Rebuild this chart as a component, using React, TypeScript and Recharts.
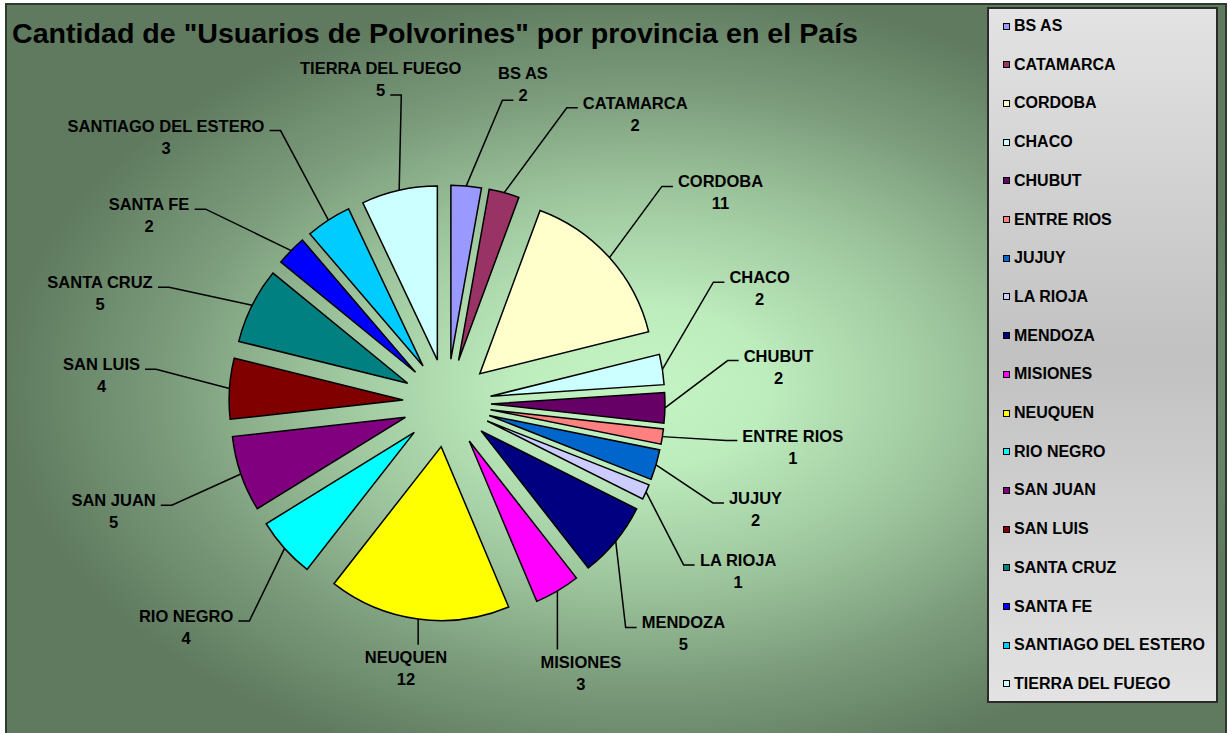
import React from "react";
import { PieChart, Pie, Cell, Sector, Legend } from "recharts";

const provinces = [
  "BS AS", "CATAMARCA", "CORDOBA", "CHACO", "CHUBUT", "ENTRE RIOS", "JUJUY", "LA RIOJA", "MENDOZA",
  "MISIONES", "NEUQUEN", "RIO NEGRO", "SAN JUAN", "SAN LUIS", "SANTA CRUZ", "SANTA FE",
  "SANTIAGO DEL ESTERO", "TIERRA DEL FUEGO",
];
const users = [2, 2, 11, 2, 2, 1, 2, 1, 5, 3, 12, 4, 5, 4, 5, 2, 3, 5];
const sliceColors = [
  "#9999FF", "#993366", "#FFFFCC", "#CCFFFF", "#660066", "#FF8080", "#0066CC", "#CCCCFF", "#000080",
  "#FF00FF", "#FFFF00", "#00FFFF", "#800080", "#800000", "#008080", "#0000FF", "#00CCFF", "#CCFFFF",
];
const title = 'Cantidad de "Usuarios de Polvorines" por provincia en el País';

const rows = provinces.map((name, i) => ({ name, value: users[i] }));

const FONT = "'Liberation Sans', Arial, sans-serif";
const LABEL_SIZE = 16.5;
const CX = 442;
const CY = 398;
const OUTER = 174;
const EXPLODE = 44;
const LABEL_GAP = 302; // distance from pie centre to the nearest corner/edge of a label
const HALF_H = 17;
const RAD = Math.PI / 180;

let measureCtx: CanvasRenderingContext2D | null = null;
function textWidth(s: string) {
  if (!measureCtx) measureCtx = document.createElement("canvas").getContext("2d");
  if (!measureCtx) return s.length * 11;
  measureCtx.font = `bold ${LABEL_SIZE}px ${FONT}`;
  return measureCtx.measureText(s).width;
}

// spread the data labels around the pie so they don't collide (angles clockwise from 12 o'clock)
function layoutLabels() {
  const total = users.reduce((a, b) => a + b, 0);
  let acc = 0;
  const mids = users.map((v) => {
    const m = ((acc + v / 2) / total) * 360;
    acc += v;
    return m;
  });
  const widths = provinces.map((p) => textWidth(p));
  const place = (i: number, a: number) => {
    const s = Math.sin(a * RAD);
    const c = Math.cos(a * RAD);
    const target = LABEL_GAP - (c < 0 ? 52 * Math.pow(c, 6) : 0);
    const hw = widths[i] / 2;
    const near = (d: number) => {
      const nx = Math.max(0, Math.abs(d * s) - hw);
      const ny = Math.max(0, Math.abs(d * c) - HALF_H);
      return Math.hypot(nx, ny);
    };
    let lo = 0;
    let hi = 800;
    for (let k = 0; k < 40; k++) {
      const mid = (lo + hi) / 2;
      if (near(mid) < target) lo = mid;
      else hi = mid;
    }
    return { x: CX + lo * s, y: CY - lo * c };
  };
  const ang = mids.slice();
  const n = ang.length;
  const hits = (i: number, j: number) => {
    const p = place(i, ang[i]);
    const q = place(j, ang[j]);
    const lower = p.y > CY && q.y > CY;
    const padX = lower ? 20 : 34;
    const padY = lower ? 28 : 44;
    return Math.abs(p.x - q.x) < (widths[i] + widths[j]) / 2 + padX && Math.abs(p.y - q.y) < 2 * HALF_H + padY;
  };
  for (let it = 0; it < 3000; it++) {
    let moved = false;
    for (let i = 0; i < n; i++) {
      const j = (i + 1) % n;
      if (hits(i, j)) {
        ang[i] -= 0.2;
        ang[j] += 0.2;
        moved = true;
      }
    }
    if (!moved) break;
  }
  return ang.map((a, i) => ({ angle: a, w: widths[i], ...place(i, a) }));
}

const ExplodedSlice = (props: any) => {
  const { cx, cy, midAngle } = props;
  const dx = EXPLODE * Math.cos(-midAngle * RAD);
  const dy = EXPLODE * Math.sin(-midAngle * RAD);
  return <Sector {...props} cx={cx + dx} cy={cy + dy} stroke="#000" strokeWidth={1.5} />;
};

const LegendBox = (props: any) => {
  const items = (props.payload ?? [])
    .slice()
    .sort((a: any, b: any) => provinces.indexOf(a.value) - provinces.indexOf(b.value));
  return (
    <div
      style={{
        position: "relative",
        boxSizing: "border-box",
        width: 231,
        height: 696,
        border: "2px solid #2b2b2b",
        background: "linear-gradient(to bottom, #e3e3e3 0%, #c1c1c1 50%, #e3e3e3 100%)",
        fontFamily: FONT,
        fontWeight: "bold",
        fontSize: 16,
        color: "#000",
      }}
    >
      {items.map((it: any, i: number) => (
        <div
          key={i}
          style={{ position: "absolute", left: 14, top: 7 + i * 38.7, height: 20, display: "flex", alignItems: "center", whiteSpace: "nowrap" }}
        >
          <span style={{ display: "inline-block", width: 5, height: 5, border: "1.5px solid #000", background: it.color, marginRight: 4 }} />
          <span>{it.value}</span>
        </div>
      ))}
    </div>
  );
};

export default function App() {
  const labels = React.useMemo(() => layoutLabels(), []);

  const renderLabel = (props: any) => {
    const { cx, cy, midAngle, index } = props;
    const L = labels[index];
    const sx = cx + (OUTER + EXPLODE) * Math.cos(-midAngle * RAD);
    const sy = cy + (OUTER + EXPLODE) * Math.sin(-midAngle * RAD);
    const nameY = L.y - 5;
    const valueY = L.y + 17;
    const s = Math.sin(L.angle * RAD);
    const c = Math.cos(L.angle * RAD);
    let d: string;
    if (Math.abs(s) >= (c < 0 ? 0.5 : 0.35)) {
      const dir = s > 0 ? 1 : -1;
      const ex = L.x - dir * (L.w / 2 + 5);
      const ey = nameY - 1;
      d = `M${sx},${sy}L${ex - dir * 11},${ey}L${ex},${ey}`;
    } else if (c > 0) {
      const vw = textWidth(String(users[index]));
      const side = sx < L.x ? -1 : 1;
      const ex = L.x + side * (vw / 2 + 5);
      const ey = valueY - 1;
      d = `M${sx},${sy}L${ex + side * 11},${ey}L${ex},${ey}`;
    } else {
      const ex = Math.max(L.x - L.w / 2, Math.min(L.x + L.w / 2, sx));
      d = `M${sx},${sy}L${ex},${nameY - 18}`;
    }
    return (
      <g key={`lbl-${index}`}>
        <path d={d} stroke="#000" strokeWidth={1.5} fill="none" />
        <text x={L.x} y={nameY} textAnchor="middle" fontFamily={FONT} fontWeight="bold" fontSize={LABEL_SIZE} fill="#000">
          {provinces[index]}
        </text>
        <text x={L.x} y={valueY} textAnchor="middle" fontFamily={FONT} fontWeight="bold" fontSize={LABEL_SIZE} fill="#000">
          {users[index]}
        </text>
      </g>
    );
  };

  return (
    <div style={{ position: "absolute", left: 0, top: 0, width: 1230, height: 733, overflow: "hidden", background: "#fff" }}>
      <div
        style={{
          position: "absolute",
          left: 5,
          top: 3,
          width: 1222,
          height: 740,
          boxSizing: "border-box",
          border: "2px solid #2f3a2f",
          background:
            "radial-gradient(ellipse 640px 400px at 635px 382px, #c4f4c4 0%, #bdecbd 20%, #9cc49c 50%, #7a9a7a 75%, #5f7a5f 100%)",
        }}
      />
      <svg width={1230} height={60} style={{ position: "absolute", left: 0, top: 0 }}>
        <text x={12} y={43} fontFamily={FONT} fontWeight="bold" fontSize={28.5} textLength={846} lengthAdjust="spacingAndGlyphs" fill="#000">
          {title}
        </text>
      </svg>
      <div style={{ position: "absolute", left: 0, top: 0 }}>
        <PieChart width={1230} height={733}>
          <Pie
            data={rows}
            dataKey="value"
            nameKey="name"
            cx={CX}
            cy={CY}
            outerRadius={OUTER}
            startAngle={90}
            endAngle={-270}
            isAnimationActive={false}
            shape={ExplodedSlice}
            label={renderLabel}
            labelLine={false}
          >
            {rows.map((r, i) => (
              <Cell key={r.name} fill={sliceColors[i]} />
            ))}
          </Pie>
          <Legend
            layout="vertical"
            align="right"
            verticalAlign="top"
            width={231}
            height={696}
            content={LegendBox}
            wrapperStyle={{ left: 987, top: 7, width: 231, height: 696 }}
          />
        </PieChart>
      </div>
    </div>
  );
}
